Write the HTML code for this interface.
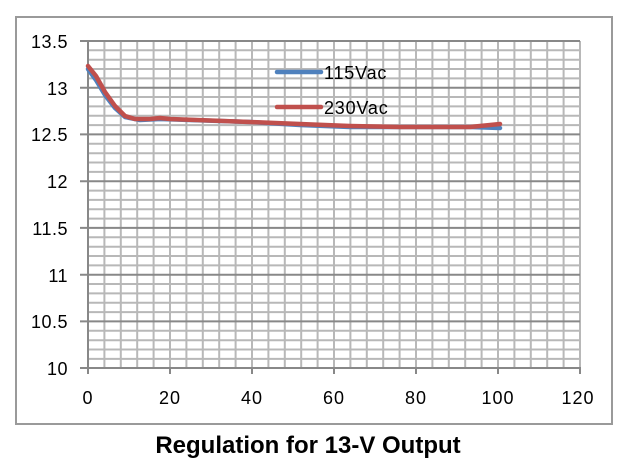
<!DOCTYPE html>
<html><head><meta charset="utf-8"><style>body{margin:0;background:#fff}svg{display:block}</style></head><body>
<svg width="630" height="471" xmlns="http://www.w3.org/2000/svg" font-family="Liberation Sans, sans-serif">
<rect x="0" y="0" width="630" height="471" fill="#fff"/>
<rect x="16" y="17" width="596" height="407" fill="#fff" stroke="#9a9a9a" stroke-width="2"/>
<g stroke="#b8b8b8" stroke-width="2">
<path d="M104.4 41V368M120.8 41V368M137.2 41V368M153.6 41V368M186.4 41V368M202.8 41V368M219.2 41V368M235.6 41V368M268.4 41V368M284.8 41V368M301.2 41V368M317.6 41V368M350.4 41V368M366.8 41V368M383.2 41V368M399.6 41V368M432.4 41V368M448.8 41V368M465.2 41V368M481.6 41V368M514.4 41V368M530.8 41V368M547.2 41V368M563.6 41V368M170 41V368M252 41V368M334 41V368M416 41V368M498 41V368M580 41V368"/>
<path d="M88 50.3H580M88 59.7H580M88 69H580M88 78.4H580M88 97H580M88 106.4H580M88 115.8H580M88 125.1H580M88 143.8H580M88 153.2H580M88 162.5H580M88 171.9H580M88 190.6H580M88 199.9H580M88 209.3H580M88 218.6H580M88 237.3H580M88 246.7H580M88 256H580M88 265.4H580M88 284H580M88 293.4H580M88 302.8H580M88 312.1H580M88 330.8H580M88 340.2H580M88 349.5H580M88 358.9H580"/>
</g>
<g stroke="#888" stroke-width="2">
<path d="M80 41H580M80 87.7H580M80 134.4H580M80 181.2H580M80 227.9H580M80 274.7H580M80 321.4H580M80 368H581"/>
<path d="M88 41V374M170 368V374M252 368V374M334 368V374M416 368V374M498 368V374M580 368V374"/>
</g>
<g font-size="18" fill="#000" text-anchor="end" letter-spacing="0.5">
<text x="68" y="48">13.5</text><text x="68" y="95">13</text><text x="68" y="141">12.5</text><text x="68" y="188">12</text><text x="68" y="235">11.5</text><text x="68" y="282">11</text><text x="68" y="328">10.5</text><text x="68" y="375">10</text>
</g>
<g font-size="18" fill="#000" text-anchor="middle" letter-spacing="1">
<text x="88" y="404">0</text><text x="170" y="404">20</text><text x="252" y="404">40</text><text x="334" y="404">60</text><text x="416" y="404">80</text><text x="498" y="404">100</text><text x="578" y="404">120</text>
</g>
<polyline fill="none" stroke="#4f81bd" stroke-width="4.5" stroke-linejoin="round" stroke-linecap="round" points="88,69 96,80 105,95 115,108 125,117 140,120 160,119 250,122 300,125 350,127 470,127 500,128"/>
<polyline fill="none" stroke="#c0504d" stroke-width="4.5" stroke-linejoin="round" stroke-linecap="round" points="88,66 96,76 105,92 115,106 125,116 135,119 150,119 160,118 170,119 250,122 300,124 350,126 400,127 470,127 500,124"/>
<line x1="277" y1="72" x2="321" y2="72" stroke="#4f81bd" stroke-width="4.5" stroke-linecap="round"/>
<line x1="277" y1="107" x2="321" y2="107" stroke="#c0504d" stroke-width="4.5" stroke-linecap="round"/>
<text x="324" y="79" font-size="18" letter-spacing="0.8">115Vac</text>
<text x="324" y="114" font-size="18" letter-spacing="0.8">230Vac</text>
<text x="308" y="453" font-size="24" font-weight="bold" text-anchor="middle">Regulation for 13-V Output</text>
</svg>
</body></html>
